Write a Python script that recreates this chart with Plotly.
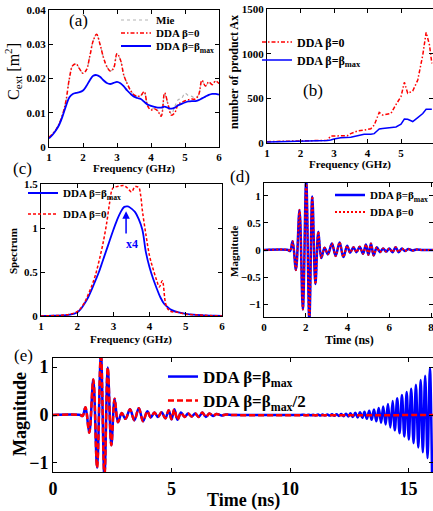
import plotly.graph_objects as go

W, H = 433, 511
SERIF = "Liberation Serif"

# ---------------- (a) extinction cross section ----------------
freq_a = [1.0, 1.1, 1.2, 1.3, 1.4, 1.5, 1.6, 1.7, 1.8, 1.9, 2.0, 2.1, 2.2, 2.3, 2.4, 2.5, 2.6, 2.7, 2.8, 2.9,
          3.0, 3.1, 3.2, 3.3, 3.4, 3.5, 3.6, 3.7, 3.8, 3.9, 4.0, 4.1, 4.2, 4.3, 4.4, 4.5, 4.6, 4.7, 4.8, 4.9,
          5.0, 5.1, 5.2, 5.3, 5.4, 5.5, 5.6, 5.7, 5.8, 5.9, 6.0]
cext_mie = [0.0028, 0.0038, 0.0050, 0.0068, 0.0095, 0.0135, 0.0200, 0.0238, 0.0242, 0.0228, 0.0215, 0.0225,
            0.0265, 0.0310, 0.0329, 0.0300, 0.0262, 0.0235, 0.0222, 0.0230, 0.0272, 0.0255, 0.0210, 0.0185,
            0.0165, 0.0152, 0.0148, 0.0150, 0.0160, 0.0122, 0.0110, 0.0113, 0.0106, 0.0092, 0.0155, 0.0125,
            0.0096, 0.0118, 0.0138, 0.0142, 0.0157, 0.0150, 0.0148, 0.0143, 0.0152, 0.0193, 0.0178, 0.0189,
            0.0182, 0.0192, 0.0185]
cext_b0 = [0.0028, 0.0038, 0.0050, 0.0068, 0.0095, 0.0135, 0.0200, 0.0238, 0.0242, 0.0228, 0.0215, 0.0225,
           0.0265, 0.0310, 0.0329, 0.0300, 0.0262, 0.0235, 0.0222, 0.0230, 0.0272, 0.0255, 0.0210, 0.0185,
           0.0165, 0.0152, 0.0148, 0.0150, 0.0162, 0.0120, 0.0108, 0.0112, 0.0105, 0.0090, 0.0158, 0.0125,
           0.0093, 0.0100, 0.0125, 0.0130, 0.0135, 0.0138, 0.0140, 0.0140, 0.0152, 0.0195, 0.0178, 0.0190,
           0.0182, 0.0193, 0.0185]
cext_bmax = [0.0025, 0.0035, 0.0048, 0.0065, 0.0090, 0.0120, 0.0145, 0.0155, 0.0158, 0.0160, 0.0165, 0.0178,
             0.0195, 0.0208, 0.0210, 0.0205, 0.0195, 0.0187, 0.0184, 0.0187, 0.0190, 0.0186, 0.0177, 0.0165,
             0.0155, 0.0147, 0.0143, 0.0140, 0.0132, 0.0124, 0.0120, 0.0117, 0.0115, 0.0115, 0.0118, 0.0114,
             0.0112, 0.0115, 0.0122, 0.0126, 0.0130, 0.0133, 0.0134, 0.0134, 0.0137, 0.0142, 0.0147, 0.0152,
             0.0155, 0.0155, 0.0153]

# ---------------- (b) number of matrix-vector products ----------------
freq_b = [1.0, 1.5, 2.0, 2.5, 2.8, 2.9, 3.0, 3.2, 3.4, 3.5, 3.7, 3.9, 4.1, 4.2, 4.3, 4.35, 4.45, 4.6, 4.7,
          4.85, 5.0, 5.1, 5.2, 5.35, 5.5, 5.65, 5.75, 5.85, 5.92]
nax_b0 = [15, 18, 22, 26, 30, 78, 80, 80, 82, 105, 135, 145, 160, 200, 290, 343, 313, 320, 330,
          430, 520, 679, 556, 582, 705, 985, 1239, 1097, 892]
nax_bmax = [10, 14, 20, 25, 28, 34, 45, 58, 62, 64, 80, 97, 98, 105, 140, 157, 163, 170, 172,
            180, 210, 268, 265, 240, 285, 330, 377, 380, 378]

# ---------------- (c) spectrum ----------------
freq_c_bmax = [1.0, 1.2, 1.4, 1.6, 1.8, 2.0, 2.1, 2.2, 2.3, 2.4, 2.5, 2.6, 2.7, 2.8, 2.9, 3.0, 3.1, 3.2, 3.3,
               3.4, 3.5, 3.6, 3.7, 3.8, 3.9, 4.0, 4.1, 4.2, 4.3, 4.4, 4.5, 4.6, 4.8, 5.0, 5.2, 5.5, 5.8, 6.0]
spec_bmax = [0.0, 0.002, 0.004, 0.007, 0.015, 0.04, 0.08, 0.14, 0.21, 0.30, 0.40, 0.50, 0.62, 0.74, 0.86,
             0.98, 1.09, 1.18, 1.24, 1.245, 1.22, 1.18, 1.10, 0.98, 0.72, 0.55, 0.42, 0.31, 0.21, 0.14, 0.10,
             0.07, 0.04, 0.025, 0.015, 0.008, 0.003, 0.002]
freq_c_b0 = [1.0, 1.2, 1.4, 1.6, 1.8, 2.0, 2.1, 2.2, 2.3, 2.4, 2.5, 2.6, 2.7, 2.8, 2.9, 2.95, 3.0, 3.1, 3.2,
             3.3, 3.4, 3.5, 3.6, 3.7, 3.75, 3.8, 3.9, 4.0, 4.1, 4.2, 4.27, 4.35, 4.45, 4.55, 4.8, 5.0, 5.2,
             5.5, 6.0]
spec_b0 = [0.0, 0.003, 0.005, 0.01, 0.02, 0.05, 0.09, 0.15, 0.24, 0.34, 0.46, 0.62, 0.80, 1.02, 1.30, 1.42,
           1.46, 1.47, 1.48, 1.48, 1.45, 1.41, 1.47, 1.46, 1.38, 1.20, 0.92, 0.68, 0.53, 0.40, 0.33, 0.40,
           0.13, 0.06, 0.04, 0.02, 0.015, 0.008, 0.0]
arrow_x, arrow_head, arrow_tail = 3.35, 1.19, 0.92

# ---------------- (d)/(e) time signals (extrema) ----------------
t_early = [0.0, 1.15, 1.25, 1.37, 1.53, 1.70, 1.86, 2.02, 2.17, 2.31, 2.46, 2.60, 2.74, 2.90, 3.06, 3.25,
           3.43, 3.62, 3.80, 3.98, 4.12, 4.28, 4.43, 4.58, 4.74, 4.88, 5.00, 5.12, 5.25, 5.40, 5.55, 5.70,
           5.85, 6.00, 6.15, 6.30, 6.45, 6.60, 6.75, 6.90, 7.10, 7.30, 7.60]
v_early = [0.0, 0.0, -0.02, 0.16, -0.37, 0.74, -1.10, 1.30, -1.30, 0.99, -0.63, 0.34, -0.15, 0.04, -0.08,
           0.12, -0.11, 0.14, -0.13, 0.08, -0.05, 0.05, -0.04, 0.06, -0.07, 0.10, -0.09, 0.12, -0.10, 0.05,
           -0.04, 0.03, -0.03, 0.03, -0.04, 0.05, -0.04, 0.03, -0.02, 0.02, -0.01, 0.01, 0.0]
t_late = [9.5, 10.45, 10.58, 10.68, 10.78, 10.88, 10.98, 11.08, 11.18, 11.28, 11.37, 11.47, 11.57, 11.67,
          11.77, 11.87, 11.96, 12.06, 12.16, 12.26, 12.36, 12.46, 12.55, 12.65, 12.75, 12.85, 12.95, 13.05,
          13.14, 13.24, 13.34, 13.44, 13.54, 13.64, 13.74, 13.84, 13.93, 14.03, 14.13, 14.23, 14.33, 14.42,
          14.52, 14.62, 14.72, 14.82, 14.92, 15.01, 15.11, 15.21, 15.31, 15.41, 15.51, 15.60, 15.70, 15.80,
          15.90, 15.99]
v_late = [0.0, 0.0, 0.005, -0.006, 0.006, -0.007, 0.007, -0.008, 0.008, -0.009, 0.010, -0.011, 0.012, -0.013,
          0.015, -0.016, 0.018, -0.020, 0.022, -0.025, 0.028, -0.030, 0.035, -0.040, 0.045, -0.050, 0.055,
          -0.060, 0.070, -0.080, 0.090, -0.100, 0.115, -0.130, 0.145, -0.160, 0.180, -0.200, 0.230, -0.260,
          0.290, -0.320, 0.350, -0.380, 0.420, -0.450, 0.480, -0.510, 0.550, -0.590, 0.630, -0.680, 0.730,
          -0.780, 0.820, -0.900, 0.980, -1.250]
t_end_d, t_end_e = [8.1], [16.05]
v_end = [0.0]

RED, BLUE, GRAY = "#ff0000", "#0000ff", "#b4b4b4"
LBL_MAX = "DDA β=β<sub>max</sub>"
LBL_0 = "DDA β=0"

fig = go.Figure()

def add(x, y, ax, name, color, width, dash, legend, shape="linear"):
    fig.add_trace(go.Scatter(x=x, y=y, xaxis="x" + ax, yaxis="y" + ax, mode="lines", name=name,
                             line=dict(color=color, width=width, dash=dash, shape=shape),
                             legend=legend, showlegend=True, hoverinfo="skip"))

# (a)
add(freq_a, cext_mie, "", "Mie", GRAY, 1.2, "dot", "legend", "spline")
add(freq_a, cext_b0, "", LBL_0, RED, 1.5, "4px,2px,1.5px,2px", "legend2", "spline")
add(freq_a, cext_bmax, "", LBL_MAX, BLUE, 1.8, "solid", "legend3", "spline")
# (b)
add(freq_b, nax_b0, "2", LBL_0, RED, 1.5, "4px,2px,1.5px,2px", "legend4")
add(freq_b, nax_bmax, "2", LBL_MAX, BLUE, 1.5, "solid", "legend5")
# (c)
add(freq_c_bmax, spec_bmax, "3", LBL_MAX, BLUE, 1.8, "solid", "legend6", "spline")
add(freq_c_b0, spec_b0, "3", LBL_0, RED, 1.5, "3px,2px", "legend7", "spline")
# (d)
add(t_early + t_end_d, v_early + v_end, "4", LBL_MAX, BLUE, 2.5, "solid", "legend8", "spline")
add(t_early + t_end_d, v_early + v_end, "4", LBL_0, RED, 2.0, "2px,2px", "legend9", "spline")
# (e)
add(t_early + t_late, v_early + v_late, "5", LBL_MAX, BLUE, 2.5, "solid", "legend10", "spline")
add(t_early + t_end_e, v_early + v_end, "5", LBL_MAX + "/2", RED, 2.5, "6px,3px", "legend11", "spline")


def px(x):
    return x / W


def py(y):
    return 1 - y / H


def axis(dom, rng, tsize=11, **kw):
    d = dict(domain=dom, range=rng, showline=True, linecolor="black", linewidth=1, mirror="allticks",
             ticks="inside", ticklen=4, tickcolor="black", showgrid=False, zeroline=False, automargin=False,
             tickfont=dict(family=SERIF, size=tsize, color="black", weight="bold"))
    d.update(kw)
    return d

lay = dict(template="none", width=W, height=H, margin=dict(l=0, r=0, t=0, b=0, autoexpand=False),
           paper_bgcolor="white", plot_bgcolor="white", font=dict(family=SERIF, color="black"))
lay["xaxis"] = axis([px(49), px(219)], [1, 6], dtick=1, anchor="y")
lay["yaxis"] = axis([py(147), py(10)], [0, 0.04], dtick=0.01, anchor="x")
lay["xaxis2"] = axis([px(267), 1.0], [1, 5.955], dtick=1, anchor="y2")
lay["yaxis2"] = axis([py(143), py(9)], [0, 1500], dtick=500, anchor="x2")
lay["xaxis3"] = axis([px(41), px(222)], [1, 6], dtick=1, anchor="y3")
lay["yaxis3"] = axis([py(316), py(184)], [0, 1.5], dtick=0.5, anchor="x3")
lay["xaxis4"] = axis([px(264), 1.0], [0, 8.09], dtick=2, anchor="y4", ticklabeloverflow="allow")
lay["yaxis4"] = axis([py(317), py(183)], [-1.24, 1.24], dtick=0.5, anchor="x4")
lay["xaxis5"] = axis([px(53), 1.0], [0, 16.03], dtick=5, anchor="y5", tsize=18)
lay["yaxis5"] = axis([py(472), py(358)], [-1.19, 1.19], dtick=1, anchor="x5", tsize=18)

# legends: (text-start px, centre px, font size)
leg_pos = {
    "legend": (156, 20, 11), "legend2": (156, 33, 11), "legend3": (156, 46, 11),
    "legend4": (297, 42, 12), "legend5": (297, 60, 12),
    "legend6": (63, 193, 11), "legend7": (63, 214, 11),
    "legend8": (370, 195, 11), "legend9": (370, 212, 11),
    "legend10": (203, 377, 17), "legend11": (203, 401, 17),
}
for k, (tx, ty, fs) in leg_pos.items():
    lay[k] = dict(x=px(tx - 40), y=py(ty), xanchor="left", yanchor="middle", bgcolor="rgba(0,0,0,0)",
                  borderwidth=0, itemwidth=30, font=dict(family=SERIF, size=fs, color="black", weight="bold"))

ann = []

def text(t, x, y, size, bold=True, angle=0, color="black"):
    ann.append(dict(text=t, x=px(x), y=py(y), xref="paper", yref="paper", showarrow=False, textangle=angle,
                    xanchor="center", yanchor="middle",
                    font=dict(family=SERIF, size=size, color=color, weight="bold" if bold else "normal")))

# panel labels
text("(a)", 78, 21, 17, bold=False)
text("(b)", 313, 90, 17, bold=False)
text("(c)", 22, 169, 17, bold=False)
text("(d)", 240, 177, 17, bold=False)
text("(e)", 23, 355, 17, bold=False)
# axis titles
text("C<sub>ext</sub> [m<sup>2</sup>]", 13, 72, 16, bold=False, angle=-90)
text("Frequency (GHz)", 134, 168, 11)
text("number of product Ax", 234, 72, 12, angle=-90)
text("Frequency (GHz)", 350, 164, 11)
text("Spectrum", 13, 251, 11, angle=-90)
text("Frequency (GHz)", 131, 339, 11)
text("Magnitude", 234, 252, 11, angle=-90)
text("Time (ns)", 349, 340, 12)
text("Magnitude", 20, 414, 18, angle=-90)
text("Time (ns)", 243, 500, 18)

# arrow + x4 in (c)
ann.append(dict(x=arrow_x, y=arrow_head, ax=arrow_x, ay=arrow_tail, xref="x3", yref="y3", axref="x3",
                ayref="y3", text="", showarrow=True, arrowhead=2, arrowsize=1, arrowwidth=1.5,
                arrowcolor=BLUE))
ann.append(dict(x=3.52, y=0.82, xref="x3", yref="y3", text="x4", showarrow=False,
                font=dict(family=SERIF, size=12, color=BLUE, weight="bold")))

lay["annotations"] = ann
fig.update_layout(**lay)
fig.write_html("out.html", config={"displayModeBar": False},
               post_script="document.body.style.margin='0';document.body.style.overflow='hidden';")
